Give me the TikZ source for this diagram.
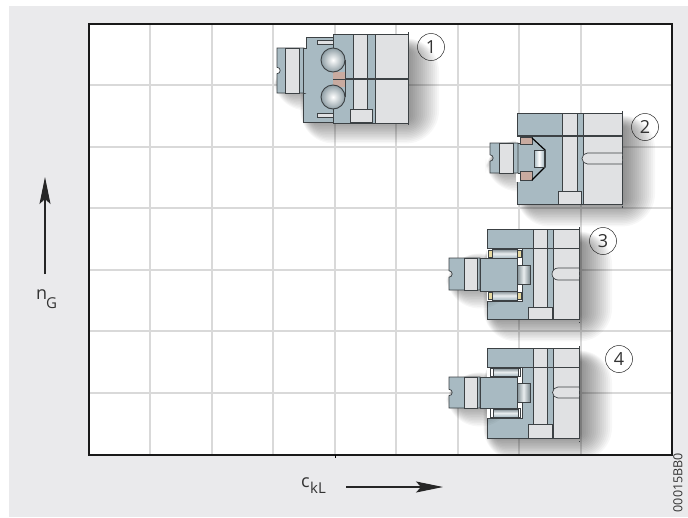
\documentclass[tikz,border=0pt]{standalone}
\usepackage{fontspec}
\setmainfont{Open Sans}
\usetikzlibrary{arrows.meta}
\definecolor{bgc}{HTML}{EAEAEC}
\definecolor{steel}{HTML}{A8BAC2}
\definecolor{lite}{HTML}{E0E1E3}
\definecolor{gridc}{HTML}{D9D9D9}
\definecolor{edge}{HTML}{3C4144}
\definecolor{pinkc}{HTML}{C9ABA0}
\definecolor{yel}{HTML}{E6D9A0}
\tikzset{
 fr/.style={draw=edge,line width=.7pt},
 st/.style={fr,fill=steel},
 li/.style={fr,fill=lite},
 numlabel/.style={circle,draw=black!85,line width=.5pt,minimum size=27pt,inner sep=0pt,font=\fontsize{18}{18}\selectfont,text=black!80},
 txt/.style={font=\fontsize{18}{18}\selectfont,inner sep=0pt,text=black!80,anchor=base west},
 arr/.style={-{Stealth[length=27pt,width=11pt,inset=5pt]},line width=1.1pt,draw=black!85},
 vroll/.style={fr,top color=steel!75!black,bottom color=steel,middle color=white!75!steel},
 hroll/.style={fr,left color=steel!75!black,right color=steel!75!black,middle color=white!75!steel},
 ballst/.style={draw=edge,line width=.9pt,inner color=white,outer color=steel!85!black,shading=radial},
}
% soft shadow falling to the lower right: x1 y1 x2 y2, kept inside the frame
\newcommand{\softshadow}[4]{%
 \begin{scope}
 \clip (89,24) rectangle (672,455);
 \foreach \s in {1,3,...,33}{%
  \fill[black,opacity=.03,rounded corners=\s] ({#1-.35*\s},{#2-.35*\s}) rectangle ({#3+\s},{#4+.8*\s});}%
 \end{scope}%
}
% shaft: x0 x1 x2 x3 ytop ybot, with the notch in its left end
\newcommand{\shaftpart}[6]{%
 \draw[st] (#1,#5) -- (#4,#5) -- (#4,#6) -- (#1,#6) -- (#1,{(#5+#6)/2+3.2})
   arc[start angle=90,end angle=-90,radius=3.2] -- cycle;
 \draw[li] (#2,#5) rectangle (#3,#6);
}
% roller-type bearing body: ytop yline ybot slottop slotbot boxtop
\newcommand{\rollerbody}[6]{%
 \softshadow{495}{#1+14}{579}{#3-4}
 \fill[lite] (487,#1) rectangle (579,#3);
 \fill[steel] (487,#1) rectangle (533,#3);
 \fill[steel] (547,#1) rectangle (553,#3);
 \draw[fr] (487,#1) rectangle (579,#3);
 \draw[fr] (533,#1) -- (533,#6); \draw[fr] (547,#1) -- (547,#6);
 \draw[fr] (553,#1) -- (553,#3);
 \draw[fr] (487,#2) -- (579,#2);
 \draw[li] (579,#4) -- (558,#4) arc[start angle=270,end angle=90,radius={(#5-#4)/2}] -- (579,#5);
 \draw[li] (528,#6) rectangle (552,#3);
 \draw[edge,densely dashed,line width=.5pt] (579,#1-2) -- (579,#3+4);
}
\begin{document}
\begin{tikzpicture}[x=1pt,y=-1pt]
\useasboundingbox (0,0) rectangle (688,517);
\fill[white] (0,0) rectangle (688,517);
\fill[bgc] (9,6) rectangle (688,517);
\fill[white] (89,24) rectangle (672,455);
% grid
\foreach \x in {150,212,273,335,396,458,519,581}
 \draw[gridc,line width=1.5pt] (\x,24) -- (\x,455);
\foreach \y in {85,147,208,270,331,393}
 \draw[gridc,line width=1.5pt] (89,\y) -- (672,\y);

% ---- bearing 1
\softshadow{312}{50}{406}{117}
\softshadow{285}{70}{300}{84}
\shaftpart{277}{285}{299}{304}{48}{93}
\draw[st] (306,37) -- (333,37) -- (333,122) -- (303,122) -- (303,93) -- (306,93) -- (303,93) -- (303,48) -- (306,48) -- cycle;
\fill[lite] (333,34) rectangle (408,123);
\fill[steel] (333,34) rectangle (353,123);
\fill[steel] (367,34) rectangle (375,123);
\draw[fr] (333,34) rectangle (408,123);
\draw[fr] (353,34) -- (353,109); \draw[fr] (367,34) -- (367,109); \draw[fr] (375,34) -- (375,123);
\fill[pinkc] (333,72) rectangle (345,87);
\draw[fr] (333,79) -- (345,79);
\draw[fr] (345,60) -- (345,97);
\draw[fr,line width=1.1pt] (345,79) -- (408,79);
\draw[li] (317,40) rectangle (333,44);
\draw[li] (317,113) rectangle (333,117);
\draw[li] (350,109) rectangle (372,122);
\draw[ballst] (333,60) circle[radius=12];
\draw[ballst] (333,97) circle[radius=12];
\draw[edge,densely dashed,line width=.5pt] (408,32) -- (408,125);

% ---- bearing 2
\softshadow{528}{127}{622}{200}
\softshadow{497}{152}{512}{165}
\fill[lite] (517,113) rectangle (622,204);
\fill[steel] (517,113) rectangle (562,204);
\fill[steel] (577,113) rectangle (583,204);
\draw[fr] (517,113) rectangle (622,204);
\draw[fr] (562,113) -- (562,191); \draw[fr] (577,113) -- (577,191);
\draw[fr] (583,113) -- (583,204);
\draw[fr,line width=1.1pt] (517,136) -- (622,136);
\draw[li] (622,153) -- (587.5,153) arc[start angle=270,end angle=90,radius=5.5] -- (622,164);
\draw[li] (558,191) rectangle (581,204);
\draw[edge,densely dashed,line width=.5pt] (622,111) -- (622,208);
\fill[white] (516.4,136.6) rectangle (520,143);
\fill[white] (516.4,173) rectangle (520,182);
\shaftpart{490}{499}{513}{518}{143}{173}
\draw[fr] (518,143) -- (533,143); \draw[fr] (518,173) -- (533,173);
\draw[fr,fill=pinkc] (520,137) rectangle (532,144);
\draw[fr,fill=pinkc] (520,171) rectangle (532,180);
\draw[black,line width=1.2pt] (532,138) -- (545,150) -- (545,167) -- (532,180);
\draw[fr,left color=steel,right color=steel,middle color=white] (534,150) rectangle (544,167);

% ---- bearing 3
\rollerbody{229}{248}{319}{268}{280}{307}
\softshadow{458}{265}{480}{282}
\fill[white] (487,248.5) rectangle (492,258);
\fill[white] (487,291) rectangle (492,301);
\fill[white] (517,248.5) rectangle (522,265);
\fill[white] (517,285) rectangle (522,301);
\draw[fr] (487,248) -- (522,248) -- (522,265);
\draw[fr] (487,301) -- (522,301) -- (522,285);
\shaftpart{449}{464}{477}{480}{258}{290}
\draw[st] (480,258) rectangle (517,291);
\draw[hroll] (517,265) rectangle (530,284);
\draw[fr,fill=yel] (488,250) rectangle (492,257);
\draw[fr,fill=yel] (517,250) rectangle (521,257);
\draw[fr,fill=yel] (488,292) rectangle (492,299);
\draw[fr,fill=yel] (517,292) rectangle (521,299);
\draw[vroll] (492,249) rectangle (517,258);
\draw[vroll] (492,291) rectangle (517,300);

% ---- bearing 4
\rollerbody{348}{367}{438}{387}{398}{424}
\softshadow{458}{384}{480}{400}
\fill[white] (487,367.5) rectangle (490,377);
\fill[white] (487,408.5) rectangle (490,418);
\fill[white] (517,367.5) rectangle (522,383);
\fill[white] (517,403) rectangle (522,418);
\draw[fr] (487,367) -- (522,367) -- (522,383);
\draw[fr] (487,418) -- (522,418) -- (522,403);
\shaftpart{449}{464}{477}{480}{377}{408}
\draw[st] (480,377) rectangle (517,408);
\draw[hroll] (517,383) rectangle (530,402);
\draw[fr,fill=white] (490,368) rectangle (520,376.5);
\draw[fr,fill=white] (490,408.5) rectangle (520,417);
\draw[vroll] (493,368) rectangle (518,376);
\draw[vroll] (493,409) rectangle (518,417);

% frame
\draw[black!90,line width=2.3pt] (89,24) rectangle (672,455);

% labels
\node[numlabel] (l1) at (431,47) {1};
\node[numlabel] (l2) at (645,127) {2};
\node[numlabel] (l3) at (603,241) {3};
\node[numlabel] (l4) at (619,359) {4};
\node[txt] (ng) at (36,299) {n};
\node[txt,font=\fontsize{15}{15}\selectfont] (ngs) at (46,308) {G};
\node[txt] (ck) at (301,487) {c};
\node[txt,font=\fontsize{15}{15}\selectfont] (cks) at (310,493) {kL};
\coordinate (a1) at (45,274); \coordinate (a2) at (45,177);
\coordinate (b1) at (346,487); \coordinate (b2) at (443,487);
\draw[arr] (a1) -- (a2);
\draw[arr] (b1) -- (b2);
\draw[black,line width=.6pt] (335,455) -- (335,458);
\node[font=\fontsize{12.5}{12.5}\selectfont,rotate=90,anchor=east,inner sep=0pt,text=black!80] (code) at (678,453) {00015BB0};
\end{tikzpicture}
\end{document}
